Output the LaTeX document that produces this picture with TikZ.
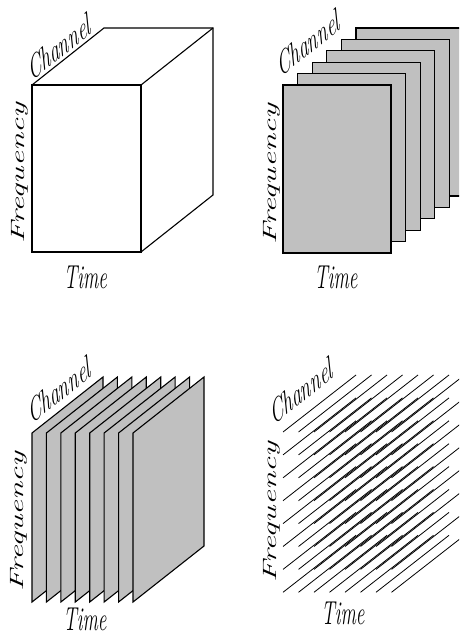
\documentclass[tikz,border=0pt]{standalone}
\usepackage{tikz}
\definecolor{planegray}{RGB}{192,192,192}
\tikzset{
  edge/.style={line width=1.1pt, black, line join=miter},
  plane/.style={edge, fill=planegray},
  lbl/.style={font=\fontsize{19.2}{21}\selectfont\itshape, inner sep=0pt, anchor=center, yscale=1.73},
  diag/.style={lbl, rotate=24.3},
  vert/.style={lbl, rotate=90},
  ray/.style={line width=0.8pt, black},
}
\begin{document}
\begin{tikzpicture}[x=1pt,y=-1pt]
\useasboundingbox (0,0) rectangle (459,636);
\clip (0,0) rectangle (459,636);

% ---- Panel 1: cube ----
\draw[edge] (32,85) rectangle (141,252);
\draw[edge] (32,85) -- ++(72,-57) -- ++(109,0) -- ++(0,167) -- (141,252);
\draw[edge] (141,85) -- ++(72,-57);
\node[diag] (ch1) at (59,47) {Channel};
\node[vert] (fr1) at (19.5,173) {Frequency};
\node[lbl] (ti1) at (85.5,277.5) {Time};

% ---- Panel 2: stacked time-frequency planes ----
\foreach \i in {5,4,...,0}
  \draw[plane] ({283+14.6*\i},{85-11.4*\i}) rectangle ++(108,168);
\node[diag] (ch2) at (308,43) {Channel};
\node[vert] (fr2) at (271.5,174) {Frequency};
\node[lbl] (ti2) at (336,277.5) {Time};

% ---- Panel 3: stacked channel-frequency planes ----
\foreach \i in {0,...,7}
  \draw[plane] ({32+14.43*\i},433) -- ++(71,-56) -- ++(0,169) -- ++(-71,56) -- cycle;
\node[diag] (ch3) at (59,390) {Channel};
\node[vert] (fr3) at (19,521.5) {Frequency};
\node[lbl] (ti3) at (85,619) {Time};

% ---- Panel 4: channel vectors ----
\foreach \i in {0,...,7}
  \foreach \j in {0,...,7}
    \draw[ray] ({283+15.5*\i},{432+22.9*\j}) -- ++(73,-57);
\node[diag] (ch4) at (301,391) {Channel};
\node[vert] (fr4) at (271.5,512) {Frequency};
\node[lbl] (ti4) at (343,613) {Time};
\end{tikzpicture}
\end{document}
